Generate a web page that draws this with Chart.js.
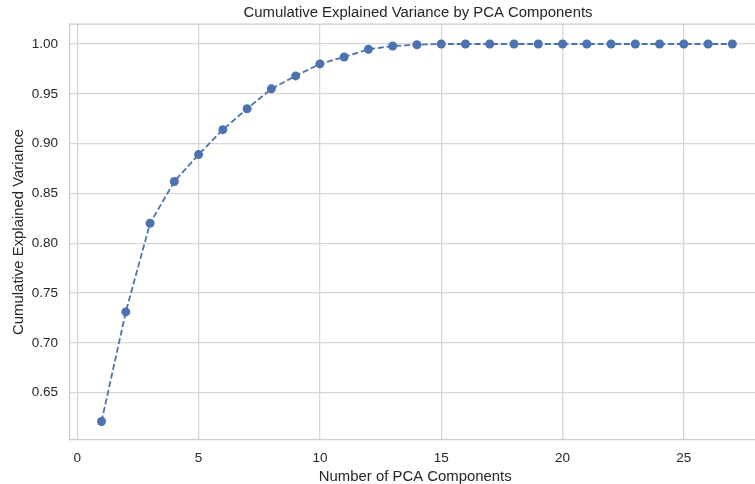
<!DOCTYPE html>
<html>
<head>
<meta charset="utf-8">
<script src="https://cdn.jsdelivr.net/npm/chart.js@4/dist/chart.umd.min.js"></script>
<style>
  html, body { margin: 0; padding: 0; background: #ffffff; overflow: hidden; }
  #wrap { width: 755px; height: 484px; position: relative; overflow: hidden; }
  canvas { display: block; }
</style>
</head>
<body>
<div id="wrap"><canvas id="c" width="765" height="484"></canvas></div>
<script>
// Number of PCA components kept
const components = [1, 2, 3, 4, 5, 6, 7, 8, 9, 10, 11, 12, 13, 14, 15, 16, 17, 18, 19, 20, 21, 22, 23, 24, 25, 26, 27];
// Cumulative explained variance ratio for each component count
const cumulativeVariance = [0.621, 0.731, 0.820, 0.862, 0.889, 0.914, 0.935, 0.955, 0.968, 0.980, 0.987, 0.9947, 0.998, 0.9993, 1.000, 1.000, 1.000, 1.000, 1.000, 1.000, 1.000, 1.000, 1.000, 1.000, 1.000, 1.000, 1.000];
// Tick labels on each axis
const xTicks = [0, 5, 10, 15, 20, 25];
const yTicks = [0.65, 0.70, 0.75, 0.80, 0.85, 0.90, 0.95, 1.00];

const TEXT = '#262626';
const GRID = '#d6d6d6';
const SPINE = '#cccccc';
const BLUE = '#4c72b0';
const FONT = '"Liberation Sans", Arial, sans-serif';

const points = components.map((c, i) => ({ x: c, y: cumulativeVariance[i] }));

// Title and the top/right frame lines around the plot area
const framePlugin = {
  id: 'frame',
  afterDatasetsDraw(chart) {
    const { ctx, chartArea } = chart;
    ctx.save();
    ctx.strokeStyle = SPINE;
    ctx.lineWidth = 1.25;
    ctx.beginPath();
    ctx.moveTo(chartArea.left, chartArea.top);
    ctx.lineTo(chartArea.right, chartArea.top);
    ctx.lineTo(chartArea.right, chartArea.bottom);
    ctx.stroke();
    ctx.restore();
  },
  afterDraw(chart) {
    const { ctx } = chart;
    ctx.save();
    ctx.fillStyle = TEXT;
    ctx.font = '14.9px ' + FONT;
    ctx.textAlign = 'center';
    ctx.textBaseline = 'middle';
    ctx.fillText('Cumulative Explained Variance by PCA Components', 418, 13);
    ctx.restore();
  }
};

new Chart(document.getElementById('c'), {
  type: 'scatter',
  data: {
    datasets: [{
      data: points,
      showLine: true,
      borderColor: BLUE,
      backgroundColor: BLUE,
      borderWidth: 1.8,
      borderDash: [6, 2.8],
      pointRadius: 4.5,
      pointHoverRadius: 4.5,
      pointBorderWidth: 0,
      pointBackgroundColor: BLUE,
      clip: false
    }]
  },
  options: {
    responsive: false,
    animation: false,
    events: [],
    layout: { padding: { top: 24, right: 0, left: 0, bottom: 0 } },
    plugins: {
      legend: { display: false },
      tooltip: { enabled: false },
      title: { display: false }
    },
    scales: {
      x: {
        type: 'linear',
        min: -0.3,
        max: 28.16,
        afterBuildTicks(scale) { scale.ticks = xTicks.map(v => ({ value: v })); },
        afterFit(scale) { scale.height = 44; },
        grid: { color: GRID, lineWidth: 1.3, drawTicks: false },
        border: { color: SPINE, width: 1.25 },
        ticks: {
          color: TEXT,
          font: { family: FONT, size: 13.5 },
          padding: 10,
          maxRotation: 0,
          callback: v => String(v)
        },
        title: {
          display: true,
          text: 'Number of PCA Components',
          color: TEXT,
          font: { family: FONT, size: 14.9 },
          padding: { top: 0, bottom: -2 }
        }
      },
      y: {
        type: 'linear',
        min: 0.6024,
        max: 1.0201,
        afterBuildTicks(scale) { scale.ticks = yTicks.map(v => ({ value: v })); },
        afterFit(scale) { scale.width = 70; },
        grid: { color: GRID, lineWidth: 1.3, drawTicks: false },
        border: { color: SPINE, width: 1.25 },
        ticks: {
          color: TEXT,
          font: { family: FONT, size: 13.5 },
          padding: 12,
          callback: v => Number(v).toFixed(2)
        },
        title: {
          display: true,
          text: 'Cumulative Explained Variance',
          color: TEXT,
          font: { family: FONT, size: 14.9 },
          padding: { top: 10, bottom: 0 }
        }
      }
    }
  },
  plugins: [framePlugin]
});
</script>
</body>
</html>
